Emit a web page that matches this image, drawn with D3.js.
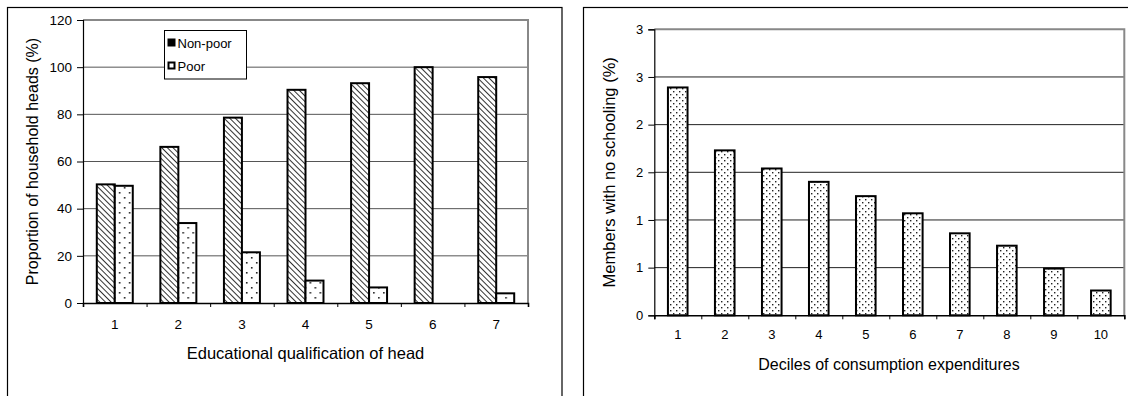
<!DOCTYPE html>
<html><head><meta charset="utf-8">
<script src="https://cdn.jsdelivr.net/npm/d3@7"></script>
<style>body{margin:0;background:#fff}svg{display:block;font-family:"Liberation Sans",Arial,sans-serif}</style>
</head><body><svg id="c" width="1128" height="396"></svg>
<script>
const eduCategories = ["1","2","3","4","5","6","7"];
const seriesNames = ["Non-poor","Poor"];
const nonPoor = [50.3, 66.2, 78.6, 90.4, 93.2, 100, 95.8];
const poor = [49.7, 33.9, 21.5, 9.5, 6.6, 0, 4.1];
const leftTicks = [0,20,40,60,80,100,120];

const deciles = ["1","2","3","4","5","6","7","8","9","10"];
const noSchooling = [2.39, 1.73, 1.54, 1.40, 1.25, 1.07, 0.86, 0.73, 0.49, 0.26];
const rightTicks = [0,0.5,1,1.5,2,2.5,3];

const svg = d3.select("#c");
const defs = svg.append("defs");
const ph = defs.append("pattern").attr("id","hatch").attr("patternUnits","userSpaceOnUse")
  .attr("width",4).attr("height",4).attr("patternTransform","rotate(-45)");
ph.append("rect").attr("width",4).attr("height",4).attr("fill","#fff");
ph.append("line").attr("x1",0).attr("y1",0).attr("x2",0).attr("y2",4).attr("stroke","#333").attr("stroke-width",2);
const pd = defs.append("pattern").attr("id","dots").attr("patternUnits","userSpaceOnUse").attr("width",10).attr("height",10);
pd.append("rect").attr("width",10).attr("height",10).attr("fill","#fff");
pd.append("rect").attr("x",2).attr("y",2).attr("width",1.6).attr("height",1.6).attr("fill","#222");
pd.append("rect").attr("x",7).attr("y",7).attr("width",1.6).attr("height",1.6).attr("fill","#222");
const pd2 = defs.append("pattern").attr("id","dots2").attr("patternUnits","userSpaceOnUse").attr("width",6).attr("height",6);
pd2.append("rect").attr("width",6).attr("height",6).attr("fill","#fff");
pd2.append("rect").attr("x",1).attr("y",1).attr("width",1.4).attr("height",1.4).attr("fill","#222");
pd2.append("rect").attr("x",4).attr("y",4).attr("width",1.4).attr("height",1.4).attr("fill","#222");

svg.append("rect").attr("x",7.5).attr("y",7.5).attr("width",554.5).attr("height",400).attr("fill","none").attr("stroke","#000").attr("stroke-width",1.2);
svg.append("rect").attr("x",583.5).attr("y",7.5).attr("width",560).attr("height",400).attr("fill","none").attr("stroke","#000").attr("stroke-width",1.2);

function panel(opts){
  const {x0,x1,y0,y1,cats,ticks,yDomain,gridColor} = opts;
  const g = svg.append("g");
  const y = d3.scaleLinear().domain(yDomain).range([y1,y0]);
  const xb = d3.scaleLinear().domain([0,cats.length]).range([x0,x1]);
  g.append("g").selectAll("line").data(ticks.filter(t=>t>yDomain[0] && t<yDomain[1])).join("line")
    .attr("x1",x0).attr("x2",x1).attr("y1",d=>y(d)).attr("y2",d=>y(d))
    .attr("stroke",gridColor).attr("stroke-width",1);
  g.append("path").attr("d",`M${x0},${y(yDomain[1])}H${x1}V${y1}`).attr("fill","none").attr("stroke","#888").attr("stroke-width",2);
  return {g,y,xb};
}

function axes(p, opts){
  const {x0,y1,cats,ticks,fmt,xScale,pad,fs} = opts;
  const ya = d3.axisLeft(p.y).tickValues(ticks).tickSize(6).tickPadding(5).tickFormat(fmt);
  const ga = p.g.append("g").attr("transform",`translate(${x0},0)`).call(ya);
  ga.select(".domain").attr("stroke","#000").attr("stroke-width",1.2);
  ga.selectAll("line").attr("stroke","#000");
  ga.selectAll("text").attr("font-size",fs).attr("fill","#000");
  const xa = d3.axisBottom(p.xb).tickValues(d3.range(cats.length+1)).tickSize(4).tickFormat("");
  const gx = p.g.append("g").attr("transform",`translate(0,${y1})`).call(xa);
  gx.select(".domain").attr("stroke","#000").attr("stroke-width",1.6);
  gx.selectAll("line").attr("stroke","#000");
  const xl = d3.axisBottom(xScale).tickSize(0).tickPadding(pad);
  const gl = p.g.append("g").attr("transform",`translate(0,${y1})`).call(xl);
  gl.select(".domain").remove();
  gl.selectAll("text").attr("font-size",fs).attr("fill","#000");
}

// LEFT
const L = {x0:83,x1:528,y0:20,y1:303};
const pL = panel({...L,cats:eduCategories,ticks:leftTicks,yDomain:[0,120],gridColor:"#555"});
const xL = d3.scaleBand().domain(eduCategories).range([L.x0,L.x1]).paddingInner(0.434).paddingOuter(0.217);
const xLs = d3.scaleBand().domain(seriesNames).range([0,xL.bandwidth()]);
const leftData = eduCategories.map((c,i)=>({c, v:[nonPoor[i],poor[i]]}));
const grp = pL.g.append("g").selectAll("g").data(leftData).join("g").attr("transform",d=>`translate(${xL(d.c)},0)`);
grp.selectAll("rect").data(d=>d.v.map((v,j)=>({s:seriesNames[j],v}))).join("rect")
  .filter(d=>d.v>0)
  .attr("x",d=>xLs(d.s)).attr("width",xLs.bandwidth())
  .attr("y",d=>pL.y(d.v)).attr("height",d=>pL.y(0)-pL.y(d.v))
  .attr("fill",d=>d.s==="Non-poor"?"url(#hatch)":"url(#dots)")
  .attr("stroke","#000").attr("stroke-width",2);
axes(pL,{...L,cats:eduCategories,ticks:leftTicks,fmt:d3.format("d"),xScale:xL,pad:16,fs:13.5});

const lg = svg.append("g").attr("transform","translate(164.5,30.5)");
lg.append("rect").attr("width",82).attr("height",48.5).attr("fill","#fff").attr("stroke","#000").attr("stroke-width",1);
seriesNames.forEach((s,i)=>{
  const yy = 9 + i*23;
  lg.append("rect").attr("x",4).attr("y",yy).attr("width",6).attr("height",6)
    .attr("fill", i===0?"#000":"#fff").attr("stroke","#000").attr("stroke-width",2);
  lg.append("text").attr("x",13).attr("y",yy+8).attr("font-size",13).text(s);
});

svg.append("text").attr("x",(L.x0+L.x1)/2).attr("y",359).attr("text-anchor","middle").attr("font-size",16.5).text("Educational qualification of head");
svg.append("text").attr("transform",`translate(38,${(L.y0+L.y1)/2}) rotate(-90)`).attr("text-anchor","middle").attr("font-size",16).text("Proportion of household heads (%)");

// RIGHT
const R = {x0:654.3,x1:1124.3,y0:29.3,y1:315.3};
const pR = panel({...R,cats:deciles,ticks:rightTicks,yDomain:[0,3],gridColor:"#222"});
const xR = d3.scaleBand().domain(deciles).range([R.x0,R.x1]).paddingInner(0.583).paddingOuter(0.29);
pR.g.append("g").selectAll("rect").data(deciles.map((c,i)=>({c,v:noSchooling[i]}))).join("rect")
  .attr("x",d=>xR(d.c)).attr("width",xR.bandwidth())
  .attr("y",d=>pR.y(d.v)).attr("height",d=>pR.y(0)-pR.y(d.v))
  .attr("fill","url(#dots2)").attr("stroke","#000").attr("stroke-width",2);
axes(pR,{...R,cats:deciles,ticks:rightTicks,fmt:d=>String(Math.round(d+1e-9)),xScale:xR,pad:14,fs:13});

svg.append("text").attr("x",889).attr("y",370).attr("text-anchor","middle").attr("font-size",16).text("Deciles of consumption expenditures");
svg.append("text").attr("transform",`translate(615,${(R.y0+R.y1)/2}) rotate(-90)`).attr("text-anchor","middle").attr("font-size",16.5).text("Members with no schooling (%)");
</script></body></html>
